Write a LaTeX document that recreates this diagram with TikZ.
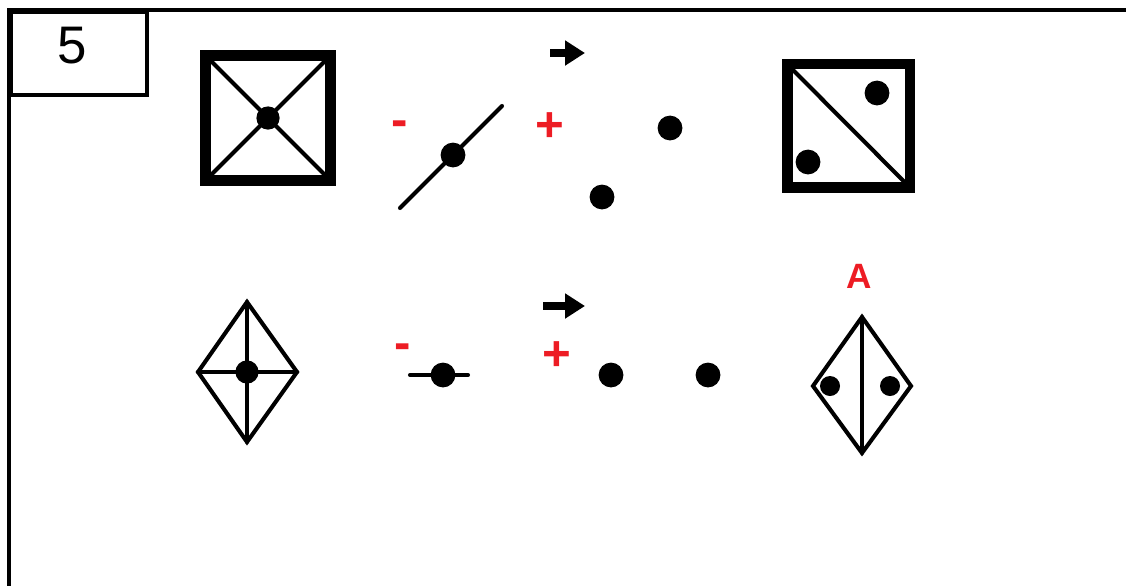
\documentclass[tikz,border=0pt]{standalone}
\usepackage{fontspec}
\setmainfont{Liberation Sans}
\usepackage{xcolor}
\usepackage{tikz}
\usetikzlibrary{arrows.meta, positioning}
\definecolor{markred}{RGB}{237,28,36}

\begin{document}
\begin{tikzpicture}[x=0.025cm, y=-0.025cm,
  dot/.style={circle, fill, inner sep=0pt, minimum size=0.62cm},
  middot/.style={dot, minimum size=0.58cm},
  smalldot/.style={dot, minimum size=0.5cm},
  frameline/.style={line width=2.2pt},
  heavy/.style={line width=7.8pt},
  stroke/.style={line width=2.9pt, line cap=round},
  sign/.style={text=markred, font=\bfseries\fontsize{35}{35}\selectfont, inner sep=0pt},
  arr/.style={-{Triangle[length=0.5cm, width=0.6cm]}, line width=5.7pt}
]
\useasboundingbox (0,0) rectangle (1126,586);

\draw[frameline] (9,586) -- (9,10) -- (1126,10);
\node[draw, line width=2.8pt, minimum width=3.4cm, minimum height=2.08cm, anchor=north west] (tag) at (9,10) {};
\node[font=\fontsize{37.6}{40}\selectfont, inner sep=0pt] (num) at (72,46) {5};

% top row
\draw[heavy] (205.5,55.5) rectangle (330.5,180.5);
\draw[stroke] (211,61) -- (325,175) (325,61) -- (211,175);
\node[middot] (c1) at (268,118) {};

\node[sign] (m1) at (400,129) {-};
\draw[stroke] (400,208) -- (502,106);
\node[dot] (d1) at (453,155) {};

\draw[arr] (550,53) -- (585,53);
\node[sign] (p1) at (550,127) {+};
\node[dot] (e1) at (670,128) {};
\node[dot] (e2) at (602,197) {};

\draw[heavy] (787.5,64) rectangle (910,187.5);
\draw[stroke] (793,70) -- (904,181.5);
\node[dot] (f1) at (877,93) {};
\node[dot] (f2) at (808,162) {};

% bottom row
\draw[stroke] (247,302) -- (297,372) -- (247,442) -- (198,372) -- cycle;
\draw[stroke] (247,302) -- (247,442) (198,372) -- (297,372);
\node[middot] (c2) at (247,372) {};

\node[sign] (m2) at (403,352) {-};
\draw[stroke] (410,375) -- (468,375);
\node[dot] (d2) at (443,375) {};

\draw[arr] (543,306) -- (585,306);
\node[sign] (p2) at (557,356) {+};
\node[dot] (e3) at (611,375) {};
\node[dot] (e4) at (708,375) {};

\node[text=markred, font=\bfseries\fontsize{25}{26}\selectfont, inner sep=0pt] (ans) at (859,276) {A};
\draw[stroke] (862,317) -- (911,386) -- (862,453) -- (813,386) -- cycle;
\draw[stroke] (862,317) -- (862,453);
\node[smalldot] (f3) at (830,386) {};
\node[smalldot] (f4) at (890,386) {};
\end{tikzpicture}
\end{document}
